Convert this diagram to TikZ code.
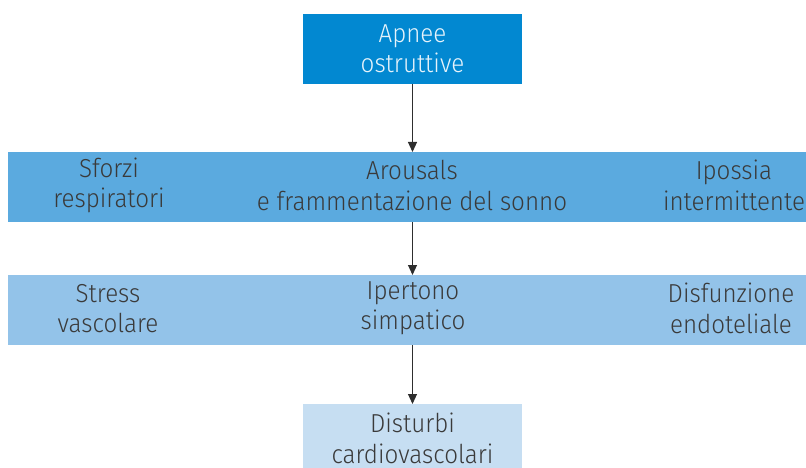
\documentclass[tikz,border=0pt]{standalone}
\usepackage{fontspec}
\setmainfont{Fira Sans}[UprightFont=* Light, FakeStretch=0.93]
\usetikzlibrary{arrows.meta}
\definecolor{cTop}{HTML}{0288D1}
\definecolor{cBandA}{HTML}{5BAADF}
\definecolor{cBandB}{HTML}{93C3E9}
\definecolor{cBot}{HTML}{C6DEF2}
\definecolor{cTxt}{HTML}{3A3A3A}
\definecolor{cTxtL}{HTML}{E6F3FB}
\definecolor{cArr}{HTML}{2E2E2E}
\begin{document}
\begin{tikzpicture}[x=1pt,y=-1pt,
  box/.style={rectangle, inner sep=0pt, outer sep=0pt},
  lbl/.style={align=center, inner sep=0pt, text=cTxt, font=\fontsize{26}{30.5}\selectfont},
  conn/.style={draw=cArr, line width=1.1pt, -{Triangle[length=10pt,width=9pt]}}]
\useasboundingbox (0,0) rectangle (806,468);
% boxes
\node[box, fill=cTop, minimum width=219pt, minimum height=70pt] (top) at (412.5,49) {};
\node[box, fill=cBandA, minimum width=798pt, minimum height=70pt] (bandA) at (407,187) {};
\node[box, fill=cBandB, minimum width=798pt, minimum height=70pt] (bandB) at (407,310) {};
\node[box, fill=cBot, minimum width=219pt, minimum height=74pt] (bot) at (412.5,441) {};
% texts
\node[lbl, text=cTxtL] (tTop) at (412.5,48.5) {Apnee\\ostruttive};
\node[lbl] (a1) at (109,185.5) {Sforzi\\respiratori};
\node[lbl] (a2) at (412,185.5) {Arousals\\e frammentazione del sonno};
\node[lbl] (a3) at (734,185.5) {Ipossia\\intermittente};
\node[lbl] (b1) at (108,308.5) {Stress\\vascolare};
\node[lbl] (b2) at (413,308.5) {Ipertono\\simpatico};
\node[lbl] (b3) at (731,308.5) {Disfunzione\\endoteliale};
\node[lbl] (tBot) at (412.5,438.5) {Disturbi\\cardiovascolari};
% connectors
\draw[conn] (top.south) -- (top.south |- bandA.north);
\draw[conn] (top.south |- bandA.south) -- (top.south |- bandB.north);
\draw[conn] (top.south |- bandB.south) -- (bot.north);
\end{tikzpicture}
\end{document}
